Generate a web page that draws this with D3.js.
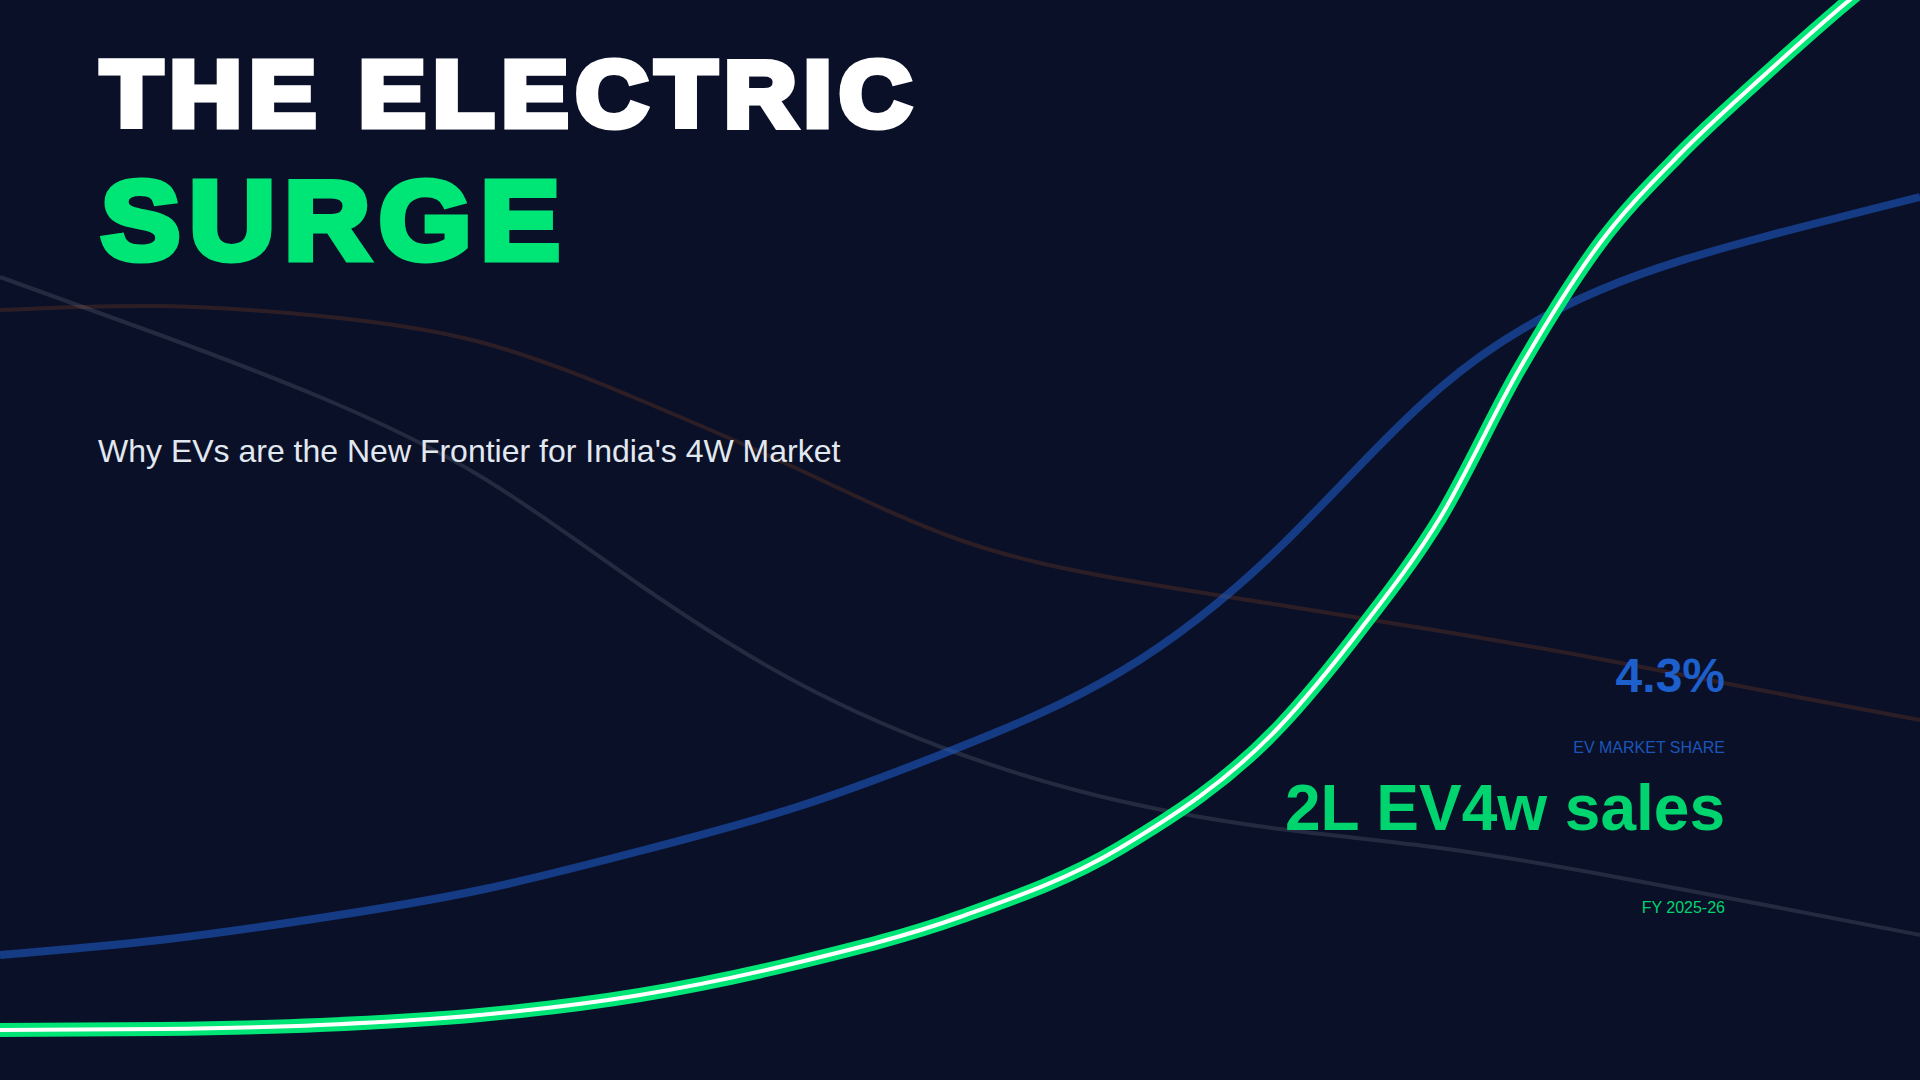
<!DOCTYPE html>
<html>
<head>
<meta charset="utf-8">
<script src="https://cdn.jsdelivr.net/npm/d3@7"></script>
<style>
  html, body { margin: 0; padding: 0; background: #0a1028; overflow: hidden; }
  svg { display: block; }
</style>
</head>
<body>
<div id="chart"></div>
<script>
// fiscal years along the x axis
const years = [2014, 2015, 2016, 2017, 2018, 2019, 2020, 2021, 2022, 2023, 2024, 2025, 2026];
// the surge line is read at half-year steps where it climbs fast
const salesYears = [2014, 2015, 2016, 2017, 2018, 2019, 2020, 2021, 2022, 2022.5, 2023, 2023.5, 2024, 2024.5, 2025, 2025.5, 2026];

// index values (0-108 scale)
const ev4wSales = [5.0, 5.1, 5.5, 6.5, 8.5, 11.8, 16.3, 23.2, 35.4, 45.0, 56.2, 71.2, 83.7, 92.6, 100.1, 107.2, 113.7];
const evShare = [12.5, 14.0, 16.2, 19.0, 22.9, 27.4, 33.3, 40.8, 53.3, 69.2, 79.0, 84.2, 88.3];
const iceShare = [80.3, 74.5, 68.3, 60.4, 49.5, 39.6, 32.6, 27.9, 25.1, 23.2, 20.6, 17.6, 14.5];
const fuelCost = [77.0, 77.4, 76.4, 73.8, 68.0, 61.0, 54.0, 50.1, 47.5, 44.9, 42.1, 39.0, 36.0];

const titleLines = ['THE ELECTRIC', 'SURGE'];
const subtitle = "Why EVs are the New Frontier for India's 4W Market";
const stats = [
  { value: '4.3%', label: 'EV MARKET SHARE' },
  { value: '2L EV4w sales', label: 'FY 2025-26' }
];

const width = 1920;
const height = 1080;

const svg = d3
  .select('#chart')
  .append('svg')
  .attr('width', width)
  .attr('height', height)
  .attr('viewBox', `0 0 ${width} ${height}`);

svg.append('rect').attr('width', width).attr('height', height).attr('fill', '#0a1028');

const x = d3.scaleLinear().domain([2014, 2026]).range([0, width]);
const y = d3.scaleLinear().domain([0, 108]).range([height, 0]);

const makeLine = (xs, curve) =>
  d3
    .line()
    .x((d, i) => x(xs[i]))
    .y((d) => y(d))
    .curve(curve);

const line = makeLine(years, d3.curveNatural);
const salesLine = makeLine(salesYears, d3.curveMonotoneX);

// faint background series first
svg.append('path')
  .attr('d', line(fuelCost))
  .attr('fill', 'none')
  .attr('stroke', '#f97316')
  .attr('stroke-opacity', 0.15)
  .attr('stroke-width', 4);

svg.append('path')
  .attr('d', line(iceShare))
  .attr('fill', 'none')
  .attr('stroke', '#ffffff')
  .attr('stroke-opacity', 0.11)
  .attr('stroke-width', 4);

svg.append('path')
  .attr('d', line(evShare))
  .attr('fill', 'none')
  .attr('stroke', '#1e5fd0')
  .attr('stroke-opacity', 0.55)
  .attr('stroke-width', 8);

// the surge line: green band with a white core
svg.append('path')
  .attr('d', salesLine(ev4wSales))
  .attr('fill', 'none')
  .attr('stroke', '#00e676')
  .attr('stroke-width', 14);

svg.append('path')
  .attr('d', salesLine(ev4wSales))
  .attr('fill', 'none')
  .attr('stroke', '#ffffff')
  .attr('stroke-width', 4);

// heavy headline (stroked, widened and spaced to mimic a black weight)
const heads = [
  { text: titleLines[0], y: 126, size: 93, sx: 1.075, spacing: 7, stroke: 7, color: '#ffffff' },
  { text: titleLines[1], y: 259, size: 111, sx: 1.07, spacing: 8.5, stroke: 7, color: '#00e676' }
];

svg.selectAll('.head')
  .data(heads)
  .enter()
  .append('text')
  .attr('class', 'head')
  .attr('transform', (d) => `translate(101, ${d.y}) scale(${d.sx}, 1)`)
  .style('font-family', '"Liberation Sans", Arial, sans-serif')
  .style('font-weight', 700)
  .style('font-size', (d) => `${d.size}px`)
  .style('letter-spacing', (d) => `${d.spacing}px`)
  .attr('fill', (d) => d.color)
  .attr('stroke', (d) => d.color)
  .attr('stroke-width', (d) => d.stroke)
  .attr('stroke-linejoin', 'miter')
  .text((d) => d.text);

svg.append('text')
  .attr('x', 98)
  .attr('y', 462)
  .style('font-family', '"Liberation Sans", Arial, sans-serif')
  .style('font-size', '32px')
  .attr('fill', '#e2e8f0')
  .text(subtitle);

// stat callouts on the right
const statStyle = [
  { valueY: 692, valueSize: 48, valueColor: '#1d5fcd', labelY: 753, labelColor: '#1a56b8' },
  { valueY: 830, valueSize: 64, valueColor: '#00d46e', labelY: 913, labelColor: '#00d46e' }
];

const callouts = svg.selectAll('.stat')
  .data(stats)
  .enter()
  .append('g')
  .attr('class', 'stat');

callouts.append('text')
  .attr('x', 1725)
  .attr('y', (d, i) => statStyle[i].valueY)
  .attr('text-anchor', 'end')
  .style('font-family', '"Liberation Sans", Arial, sans-serif')
  .style('font-weight', 700)
  .style('font-size', (d, i) => `${statStyle[i].valueSize}px`)
  .attr('fill', (d, i) => statStyle[i].valueColor)
  .text((d) => d.value);

callouts.append('text')
  .attr('x', 1725)
  .attr('y', (d, i) => statStyle[i].labelY)
  .attr('text-anchor', 'end')
  .style('font-family', '"Liberation Sans", Arial, sans-serif')
  .style('font-size', '16px')
  .attr('fill', (d, i) => statStyle[i].labelColor)
  .text((d) => d.label);
</script>
</body>
</html>
